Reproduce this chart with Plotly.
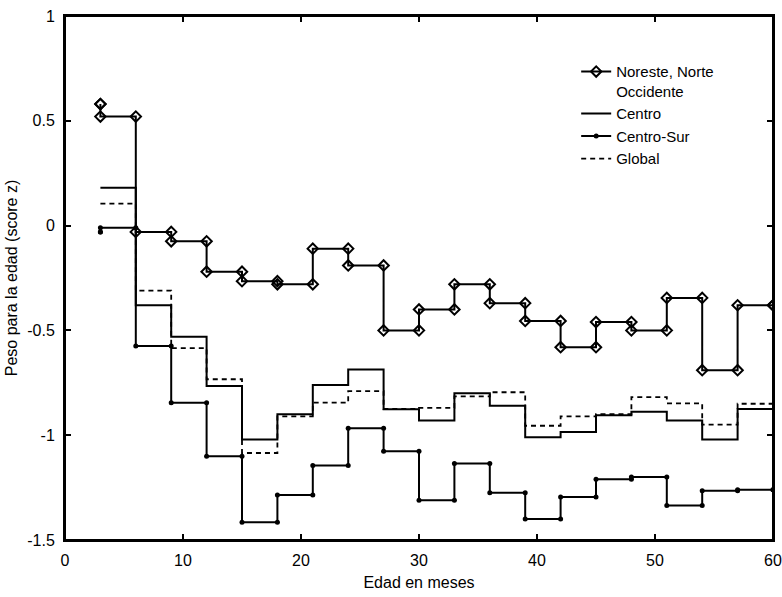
import plotly.graph_objects as go

# ---- data ----
edad = [3, 3, 6, 9, 12, 15, 18, 21, 24, 27, 30, 33, 36, 39, 42, 45, 48, 51, 54, 57, 60]

noreste = [0.58, 0.52, -0.03, -0.075, -0.22, -0.265, -0.28, -0.11, -0.19, -0.50, -0.40,
           -0.28, -0.37, -0.455, -0.58, -0.46, -0.50, -0.345, -0.69, -0.38, -0.38]
centro = [0.18, 0.18, -0.38, -0.53, -0.765, -1.02, -0.90, -0.76, -0.686, -0.876, -0.93,
          -0.80, -0.86, -1.01, -0.985, -0.905, -0.888, -0.93, -1.02, -0.875, -0.875]
centro_sur = [-0.03, -0.01, -0.575, -0.845, -1.10, -1.415, -1.285, -1.145, -0.967, -1.077, -1.31,
              -1.135, -1.275, -1.40, -1.295, -1.21, -1.20, -1.335, -1.265, -1.26, -1.26]
global_ = [0.105, 0.105, -0.31, -0.585, -0.733, -1.085, -0.91, -0.845, -0.79, -0.875, -0.87,
           -0.815, -0.795, -0.955, -0.91, -0.90, -0.818, -0.848, -0.95, -0.85, -0.85]

series_names = ["Noreste, Norte<br>Occidente", "Centro", "Centro-Sur", "Global"]

x_ticks = [0, 10, 20, 30, 40, 50, 60]
y_ticks = [-1.5, -1, -0.5, 0, 0.5, 1]
y_tick_labels = ["-1.5", "-1", "-0.5", "0", "0.5", "1"]


def stairs(x, y):
    """MATLAB-style stairs vertices: (x_i, y_i) -> (x_{i+1}, y_i), then last point."""
    xs, ys = [], []
    for i in range(len(x) - 1):
        xs += [x[i], x[i + 1]]
        ys += [y[i], y[i]]
    xs.append(x[-1])
    ys.append(y[-1])
    return xs, ys


FONT = "Liberation Sans, Arial, sans-serif"
fig = go.Figure()

xs, ys = stairs(edad, noreste)
fig.add_trace(go.Scatter(
    x=xs, y=ys, name=series_names[0], mode="lines+markers",
    line=dict(color="black", width=2),
    marker=dict(symbol="diamond-open", size=8, color="black", line=dict(width=2, color="black")),
))

xs, ys = stairs(edad, centro)
fig.add_trace(go.Scatter(
    x=xs, y=ys, name=series_names[1], mode="lines",
    line=dict(color="black", width=2),
))

xs, ys = stairs(edad, centro_sur)
fig.add_trace(go.Scatter(
    x=xs, y=ys, name=series_names[2], mode="lines+markers",
    line=dict(color="black", width=2),
    marker=dict(symbol="circle", size=5, color="black"),
))

xs, ys = stairs(edad, global_)
fig.add_trace(go.Scatter(
    x=xs, y=ys, name=series_names[3], mode="lines",
    line=dict(color="black", width=1.8, dash="5px,4px"),
))

axis_common = dict(
    showline=True, linecolor="black", linewidth=2, mirror="ticks",
    ticks="inside", ticklen=6, tickwidth=1.5, tickcolor="black",
    showgrid=False, zeroline=False, automargin=False,
    ticklabeloverflow="allow",
    tickfont=dict(family=FONT, size=16, color="black"),
)

fig.update_layout(
    width=782, height=597,
    margin=dict(l=65, r=9, t=16, b=57),
    paper_bgcolor="white", plot_bgcolor="white",
    font=dict(family=FONT, size=16, color="black"),
    xaxis=dict(range=[0, 60], tickvals=x_ticks,
               title=dict(text="Edad en meses", font=dict(family=FONT, size=16), standoff=9),
               ticklabelstandoff=5, **axis_common),
    yaxis=dict(range=[-1.5, 1], tickvals=y_ticks, ticktext=y_tick_labels,
               title=dict(text="Peso para la edad (score z)", font=dict(family=FONT, size=16), standoff=6),
               ticklabelstandoff=5, **axis_common),
    legend=dict(x=0.722, y=0.925, xanchor="left", yanchor="top",
                bgcolor="rgba(0,0,0,0)", borderwidth=0, itemwidth=30,
                font=dict(family=FONT, size=15, color="black"), valign="top",
                tracegroupgap=0),
    showlegend=True,
    shapes=[dict(type="rect", xref="paper", yref="paper", x0=0, x1=1, y0=0, y1=1,
                 line=dict(color="black", width=2), layer="above")],
)

# remove the default 8px page margin so the figure fills the window exactly
fig.write_html("out.html", config={"displayModeBar": False},
               post_script="document.body.style.margin='0';")
